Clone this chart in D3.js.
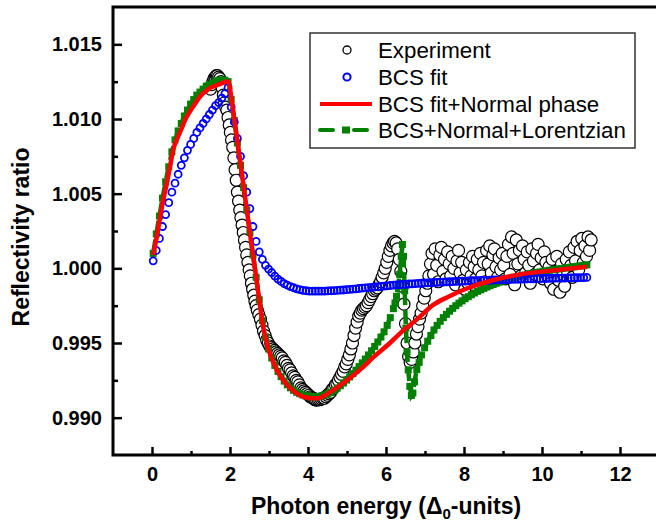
<!DOCTYPE html>
<html><head><meta charset="utf-8">
<script src="https://cdn.jsdelivr.net/npm/d3@7"></script>
<style>body{margin:0;background:#fff}svg{display:block}text{font-family:"Liberation Sans",Arial,sans-serif}</style>
</head><body><svg id="c" width="656" height="521"></svg>
<script>
const xTicksMajor=[0,2,4,6,8,10,12];
const xTicksMinor=[1,3,5,7,9,11];
const yTicksMajor=[0.990,0.995,1.000,1.005,1.010,1.015];
const yTicksMinor=[0.9925,0.9975,1.0025,1.0075,1.0125];
const legendLabels=["Experiment","BCS fit","BCS fit+Normal phase","BCS+Normal+Lorentzian"];
const xTitle=["Photon energy (Δ","0","-units)"];
const yTitle="Reflectivity ratio";

const experiment=[
[1.50,1.0120],[1.53,1.0123],[1.56,1.0125],[1.59,1.0127],[1.62,1.0128],[1.65,1.0129],[1.68,1.0129],[1.71,1.0128],[1.74,1.0127],[1.77,1.0125],
[1.80,1.0121],[1.83,1.0116],[1.86,1.0111],[1.89,1.0108],[1.92,1.0106],[1.95,1.0101],[1.98,1.0096],[2.01,1.0091],[2.04,1.0086],[2.07,1.0081],
[2.10,1.0074],[2.13,1.0066],[2.16,1.0059],[2.19,1.0051],[2.22,1.0045],[2.25,1.0039],[2.28,1.0034],[2.31,1.0029],[2.34,1.0024],[2.37,1.0019],
[2.40,1.0014],[2.43,1.0009],[2.46,1.0004],[2.49,0.9999],[2.52,0.9995],[2.55,0.9990],[2.58,0.9986],[2.61,0.9982],[2.64,0.9978],[2.67,0.9975],
[2.70,0.9972],[2.74,0.9969],[2.78,0.9966],[2.82,0.9962],[2.86,0.9958],[2.90,0.9955],[2.94,0.9952],[2.98,0.9950],[3.02,0.9948],[3.06,0.9947],
[3.10,0.9946],[3.14,0.9945],[3.18,0.9944],[3.22,0.9943],[3.26,0.9942],[3.30,0.9941],[3.34,0.9940],[3.38,0.9938],[3.42,0.9937],[3.46,0.9935],
[3.50,0.9933],[3.54,0.9932],[3.58,0.9930],[3.62,0.9928],[3.66,0.9927],[3.70,0.9925],[3.74,0.9924],[3.78,0.9922],[3.82,0.9920],[3.86,0.9919],
[3.90,0.9918],[3.94,0.9917],[3.98,0.9916],[4.02,0.9915],[4.06,0.9914],[4.10,0.99135],[4.14,0.9913],[4.18,0.9912],[4.22,0.99118],[4.26,0.9912],
[4.30,0.9912],[4.34,0.99125],[4.38,0.9913],[4.42,0.9913],[4.46,0.9914],[4.50,0.9915],[4.54,0.9916],[4.58,0.9917],[4.62,0.9919],[4.66,0.9920],
[4.70,0.9922],[4.74,0.9923],[4.78,0.9925],[4.82,0.9927],[4.86,0.9929],[4.90,0.9931],[4.94,0.9934],[4.98,0.9936],[5.02,0.9939],[5.06,0.9942],
[5.10,0.9946],[5.14,0.9950],[5.18,0.9955],[5.22,0.9960],[5.26,0.9964],[5.30,0.9968],[5.34,0.9970],[5.38,0.9972],[5.42,0.9973],[5.46,0.9974],
[5.50,0.9975],[5.54,0.9977],[5.58,0.9979],[5.62,0.9981],[5.66,0.9983],[5.70,0.9985],[5.74,0.9986],[5.78,0.9987],[5.82,0.9989],[5.86,0.9991],
[5.90,0.9994],[5.94,0.9997],[5.98,1.0000],[6.02,1.0004],[6.06,1.0008],[6.10,1.0012],[6.14,1.0015],[6.18,1.0017],[6.22,1.0018],[6.26,1.0017],
[6.30,1.0013],[6.34,1.0006],[6.38,0.9998],[6.42,0.9988],[6.46,0.9976],[6.50,0.9963],[6.54,0.9950],[6.58,0.9941],[6.62,0.9937],[6.66,0.9939],
[6.70,0.9944],[6.74,0.9950],[6.78,0.9956],[6.82,0.9961],[6.86,0.9966],[6.90,0.9970],[6.94,0.9975],[6.98,0.9980],[7.02,0.9985],[7.06,0.9990],
[7.10,0.9995],[7.14,1.0003],[7.18,1.0010],[7.22,0.9996],[7.26,1.0013],[7.30,1.0002],[7.34,0.9991],[7.38,1.0009],[7.42,1.0014],[7.46,0.9998],
[7.50,1.0006],[7.54,0.9993],[7.58,1.0011],[7.62,1.0003],[7.66,0.9995],[7.70,1.0008],[7.74,1.0000],[7.78,0.9989],[7.82,1.0005],[7.86,1.0012],
[7.90,0.9997],[7.94,1.0004],[7.98,0.9992],[8.02,0.9986],[8.06,0.9999],[8.10,0.9990],[8.14,1.0004],[8.18,0.9995],[8.22,1.0008],[8.26,1.0001],
[8.30,0.9993],[8.34,1.0006],[8.38,0.9999],[8.42,1.0010],[8.46,0.9995],[8.50,1.0004],[8.54,0.9991],[8.58,1.0012],[8.62,1.0003],[8.66,1.0015],
[8.70,0.9997],[8.74,1.0009],[8.78,1.0013],[8.82,1.0001],[8.86,0.9994],[8.90,1.0007],[8.94,0.9999],[8.98,1.0010],[9.02,1.0002],[9.06,0.9993],
[9.10,1.0008],[9.14,1.0016],[9.18,0.9996],[9.22,1.0021],[9.26,1.0010],[9.30,0.9989],[9.34,1.0019],[9.38,1.0003],[9.42,1.0012],[9.46,0.9995],
[9.50,1.0015],[9.54,1.0006],[9.58,0.9997],[9.62,1.0011],[9.66,1.0002],[9.70,0.9990],[9.74,1.0013],[9.78,1.0005],[9.82,0.9996],[9.86,1.0010],
[9.90,1.0016],[9.94,0.9999],[9.98,1.0007],[10.02,0.9993],[10.06,1.0011],[10.10,1.0004],[10.14,0.9995],[10.18,1.0001],[10.22,0.9990],[10.26,1.0006],
[10.30,0.9986],[10.34,0.9998],[10.38,1.0008],[10.42,0.9992],[10.46,0.9984],[10.50,1.0003],[10.54,0.9996],[10.58,0.9988],[10.62,1.0006],[10.66,0.9997],
[10.70,1.0011],[10.74,1.0002],[10.78,0.9994],[10.82,1.0014],[10.86,1.0005],[10.90,1.0018],[10.94,0.9999],[10.98,1.0012],[11.02,1.0020],[11.06,1.0004],
[11.10,1.0015],[11.14,1.0008],[11.18,1.0021],[11.22,1.0012],[11.26,1.0019]
];

const bcsFit=[
[0.03,1.0005],[0.11,1.0012],[0.19,1.0020],[0.27,1.0028],[0.35,1.0036],[0.43,1.0044],[0.51,1.0051],[0.59,1.0057],[0.67,1.0063],[0.75,1.0069],
[0.83,1.0074],[0.91,1.0079],[0.99,1.0083],[1.07,1.0087],[1.15,1.0091],[1.23,1.0094],[1.31,1.0097],[1.39,1.0100],[1.47,1.0103],[1.55,1.0106],
[1.63,1.0109],[1.71,1.0111],[1.79,1.0114],[1.87,1.0117],[1.95,1.0121],[2.03,1.0108],[2.11,1.0098],[2.19,1.0087],[2.27,1.0075],[2.35,1.0062],
[2.43,1.0051],[2.51,1.0040],[2.59,1.0028],[2.67,1.0018],[2.75,1.0011],[2.83,1.0006],[2.91,1.0002],[2.99,0.99995],[3.07,0.99972],[3.15,0.99948],
[3.23,0.99928],[3.31,0.99912],[3.39,0.99898],[3.47,0.99887],[3.55,0.99878],[3.63,0.9987],[3.71,0.99863],[3.79,0.99857],[3.87,0.99853],[3.95,0.9985],
[4.03,0.99848],[4.11,0.99847],[4.19,0.99847],[4.27,0.99847],[4.35,0.99847],[4.43,0.99848],[4.51,0.99849],[4.59,0.9985],[4.67,0.99851],[4.75,0.99852],
[4.83,0.99854],[4.91,0.99855],[4.99,0.99857],[5.07,0.99859],[5.15,0.99861],[5.23,0.99863],[5.31,0.99865],[5.39,0.99867],[5.47,0.99869],[5.55,0.99871],
[5.63,0.99873],[5.71,0.99875],[5.79,0.99877],[5.87,0.99879],[5.95,0.99881],[6.03,0.99883],[6.11,0.99885],[6.19,0.99887],[6.27,0.99889],[6.35,0.9989],
[6.43,0.99892],[6.51,0.99893],[6.59,0.99895],[6.67,0.99896],[6.75,0.99898],[6.83,0.99899],[6.91,0.999],[6.99,0.99902],[7.07,0.99903],[7.15,0.99904],
[7.23,0.99905],[7.31,0.99906],[7.39,0.99907],[7.47,0.99908],[7.55,0.99909],[7.63,0.9991],[7.71,0.99911],[7.79,0.99912],[7.87,0.99913],[7.95,0.99914],
[8.03,0.99915],[8.11,0.99916],[8.19,0.99917],[8.27,0.99917],[8.35,0.99918],[8.43,0.99919],[8.51,0.9992],[8.59,0.9992],[8.67,0.99921],[8.75,0.99922],
[8.83,0.99923],[8.91,0.99923],[8.99,0.99924],[9.07,0.99925],[9.15,0.99925],[9.23,0.99926],[9.31,0.99927],[9.39,0.99927],[9.47,0.99928],[9.55,0.99928],
[9.63,0.99929],[9.71,0.9993],[9.79,0.9993],[9.87,0.99931],[9.95,0.99931],[10.03,0.99932],[10.11,0.99932],[10.19,0.99933],[10.27,0.99933],[10.35,0.99934],
[10.43,0.99934],[10.51,0.99935],[10.59,0.99935],[10.67,0.99936],[10.75,0.99936],[10.83,0.99937],[10.91,0.99937],[10.99,0.99938],[11.07,0.99938],[11.15,0.99939]
];

const bcsNormal=[
[0.03,1.0009],[0.12,1.0021],[0.2,1.0033],[0.29,1.0046],[0.38,1.0057],[0.46,1.0068],[0.55,1.0080],[0.65,1.0087],[0.75,1.0093],[0.86,1.0100],
[0.97,1.0105],[1.1,1.0110],[1.2,1.0114],[1.3,1.0117],[1.4,1.0119],[1.5,1.0121],[1.6,1.0122],[1.7,1.0123],[1.8,1.0124],[1.9,1.0125],
[1.96,1.0125],[2.04,1.0113],[2.2,1.0083],[2.38,1.0049],[2.52,1.0022],[2.64,1.0000],[2.75,0.9979],[2.85,0.9961],[2.95,0.9949],[3.05,0.9941],
[3.2,0.9932],[3.4,0.9924],[3.62,0.9918],[3.8,0.99148],[3.95,0.99135],[4.1,0.9913],[4.25,0.9913],[4.4,0.99145],[4.65,0.99185],[5.0,0.9925],
[5.33,0.9932],[5.7,0.9941],[6.1,0.9950],[6.36,0.99565],[6.8,0.9966],[7.21,0.99755],[7.6,0.9981],[8.07,0.99865],[8.6,0.9991],[9.0,0.99937],
[9.5,0.99962],[10.0,0.99978],[10.5,0.99992],[11.15,1.0001]
];

const bcsNormalLorentz=[
[0.03,1.0010],[0.11,1.0023],[0.19,1.0035],[0.27,1.0047],[0.35,1.0058],[0.43,1.0068],[0.51,1.0078],[0.59,1.0086],[0.67,1.0092],[0.75,1.0097],
[0.83,1.0102],[0.91,1.0106],[0.99,1.0110],[1.07,1.0113],[1.15,1.0116],[1.23,1.0118],[1.31,1.0120],[1.39,1.0122],[1.47,1.0123],[1.55,1.0124],
[1.63,1.0125],[1.71,1.0126],[1.79,1.0126],[1.87,1.0126],[1.95,1.0125],[2.03,1.0113],[2.11,1.0099],[2.19,1.0084],[2.27,1.0069],[2.35,1.0054],
[2.43,1.0039],[2.51,1.0024],[2.59,1.0009],[2.67,0.9994],[2.75,0.9979],[2.83,0.9965],[2.91,0.9954],[2.99,0.9946],[3.07,0.9940],[3.15,0.9935],
[3.23,0.9931],[3.31,0.99275],[3.39,0.99245],[3.47,0.9922],[3.55,0.992],[3.63,0.99183],[3.71,0.9917],[3.79,0.9916],[3.87,0.99152],[3.95,0.99146],
[4.03,0.99142],[4.11,0.9914],[4.19,0.9914],[4.27,0.99142],[4.35,0.99146],[4.43,0.99152],[4.51,0.9916],[4.59,0.9917],[4.67,0.99183],[4.75,0.99198],
[4.83,0.99214],[4.91,0.99232],[4.99,0.99252],[5.07,0.99273],[5.15,0.99295],[5.23,0.99318],[5.31,0.99342],[5.39,0.99367],[5.47,0.99393],[5.55,0.9942],
[5.63,0.99448],[5.71,0.99477],[5.79,0.99507],[5.87,0.9954],[5.95,0.99575],[6.03,0.99618],[6.11,0.9967],[6.19,0.9973],[6.23,0.99768],[6.27,0.99813],
[6.31,0.9988],[6.35,0.9996],[6.39,1.0008],[6.42,1.0016],[6.45,1.0008],[6.48,0.9985],[6.51,0.9960],[6.54,0.9944],[6.57,0.9932],[6.61,0.9921],
[6.65,0.99148],[6.69,0.99165],[6.73,0.9924],[6.79,0.99322],[6.85,0.9937],[6.91,0.9942],[6.99,0.99468],[7.07,0.99512],[7.15,0.9955],[7.23,0.99587],
[7.31,0.99618],[7.39,0.99645],[7.47,0.9967],[7.55,0.99692],[7.63,0.99713],[7.71,0.99732],[7.79,0.9975],[7.87,0.99767],[7.95,0.99782],[8.03,0.99797],
[8.11,0.9981],[8.19,0.99823],[8.27,0.99835],[8.35,0.99846],[8.43,0.99856],[8.51,0.99866],[8.59,0.99875],[8.67,0.99884],[8.75,0.99892],[8.83,0.999],
[8.91,0.99907],[8.99,0.99914],[9.07,0.99921],[9.15,0.99927],[9.23,0.99933],[9.31,0.99939],[9.39,0.99944],[9.47,0.99949],[9.55,0.99954],[9.63,0.99959],
[9.71,0.99964],[9.79,0.99968],[9.87,0.99972],[9.95,0.99976],[10.03,0.9998],[10.11,0.99984],[10.19,0.99987],[10.27,0.9999],[10.35,0.99993],[10.43,0.99996],
[10.51,0.99999],[10.59,1.00002],[10.67,1.00005],[10.75,1.00008],[10.83,1.00011],[10.91,1.00014],[10.99,1.00017],[11.07,1.0002],[11.15,1.00023]
];

const FONT='"Liberation Sans",Arial,sans-serif';
const svg=d3.select("#c");
const x=d3.scaleLinear().domain([-1,13]).range([113,659]);
const y=d3.scaleLinear().domain([0.9875,1.0175]).range([455,7]);
const [y0]=y.range();

// minor ticks
const gxm=svg.append("g").attr("transform",`translate(0,${y0})`)
  .call(d3.axisBottom(x).tickValues(xTicksMinor).tickSize(-4).tickSizeOuter(0).tickFormat(""));
gxm.select(".domain").remove();
gxm.selectAll(".tick line").attr("stroke","#000").attr("stroke-width",2.5);
const gym=svg.append("g").attr("transform",`translate(${x.range()[0]},0)`)
  .call(d3.axisLeft(y).tickValues(yTicksMinor).tickSize(-5).tickSizeOuter(0).tickFormat(""));
gym.select(".domain").remove();
gym.selectAll(".tick line").attr("stroke","#000").attr("stroke-width",2.5);

// major axes
const gx=svg.append("g").attr("transform",`translate(0,${y0})`)
  .call(d3.axisBottom(x).tickValues(xTicksMajor).tickSize(-8).tickSizeOuter(0).tickPadding(12).tickFormat(d3.format("d")));
gx.select(".domain").remove();
gx.selectAll(".tick line").attr("stroke","#000").attr("stroke-width",2.5);
gx.selectAll("text").attr("font-family",FONT).attr("font-size",20).attr("font-weight","bold").attr("fill","#000");
const gy=svg.append("g").attr("transform",`translate(${x.range()[0]},0)`)
  .call(d3.axisLeft(y).tickValues(yTicksMajor).tickSize(-9).tickSizeOuter(0).tickPadding(11).tickFormat(d3.format(".3f")));
gy.select(".domain").remove();
gy.selectAll(".tick line").attr("stroke","#000").attr("stroke-width",2.5);
gy.selectAll("text").attr("font-family",FONT).attr("font-size",20).attr("font-weight","bold").attr("fill","#000");

// frame
svg.append("rect").attr("x",x.range()[0]).attr("y",y.range()[1])
  .attr("width",x.range()[1]-x.range()[0]).attr("height",y0-y.range()[1])
  .attr("fill","none").attr("stroke","#000").attr("stroke-width",3);

// experiment
svg.append("g").selectAll("circle").data(experiment).join("circle")
  .attr("cx",d=>x(d[0])).attr("cy",d=>y(d[1])).attr("r",6)
  .attr("fill","#fff").attr("stroke","#000").attr("stroke-width",1.2);

// green: dashed line + squares
svg.append("path").datum(bcsNormalLorentz)
  .attr("d",d3.line().x(d=>x(d[0])).y(d=>y(d[1])))
  .attr("fill","none").attr("stroke","#008000").attr("stroke-width",4.5).attr("stroke-dasharray","14,5");
const sq=7;
svg.append("g").selectAll("rect").data(bcsNormalLorentz).join("rect")
  .attr("x",d=>x(d[0])-sq/2).attr("y",d=>y(d[1])-sq/2).attr("width",sq).attr("height",sq)
  .attr("fill","#008000");

// blue circles
svg.append("g").selectAll("circle").data(bcsFit).join("circle")
  .attr("cx",d=>x(d[0])).attr("cy",d=>y(d[1])).attr("r",3.5)
  .attr("fill","none").attr("stroke","#0000ff").attr("stroke-width",1.8);

// red line
svg.append("path").datum(bcsNormal)
  .attr("d",d3.line().x(d=>x(d[0])).y(d=>y(d[1])).curve(d3.curveMonotoneX))
  .attr("fill","none").attr("stroke","#ff0000").attr("stroke-width",4.5).attr("stroke-linejoin","round");

// axis titles
svg.append("text").attr("transform","translate(29,237) rotate(-90)")
  .attr("text-anchor","middle").attr("font-family",FONT).attr("font-size",23).attr("font-weight","bold").text(yTitle);
const xt=svg.append("text").attr("x",386).attr("y",514).attr("text-anchor","middle")
  .attr("font-family",FONT).attr("font-size",23).attr("font-weight","bold");
xt.append("tspan").text(xTitle[0]);
xt.append("tspan").attr("font-size",15).attr("dy",5).text(xTitle[1]);
xt.append("tspan").attr("dy",-5).text(xTitle[2]);

// legend
const lg=svg.append("g");
lg.append("rect").attr("x",310).attr("y",33).attr("width",325).attr("height",115)
  .attr("fill","#fff").attr("stroke","#333").attr("stroke-width",1.5);
const rowY=[50,77,104,130];
legendLabels.forEach((t,i)=>{
  lg.append("text").attr("x",378).attr("y",rowY[i]+8).attr("font-family",FONT).attr("font-size",22.3).attr("fill","#000").text(t);
});
lg.append("circle").attr("cx",347).attr("cy",rowY[0]).attr("r",4).attr("fill","#fff").attr("stroke","#000").attr("stroke-width",1.3);
lg.append("circle").attr("cx",347).attr("cy",rowY[1]).attr("r",3.6).attr("fill","#fff").attr("stroke","#0000ff").attr("stroke-width",2);
lg.append("line").attr("x1",320).attr("x2",372).attr("y1",rowY[2]).attr("y2",rowY[2]).attr("stroke","#ff0000").attr("stroke-width",4);
lg.append("line").attr("x1",320).attr("x2",333).attr("y1",rowY[3]).attr("y2",rowY[3]).attr("stroke","#008000").attr("stroke-width",4).attr("stroke-linecap","round");
lg.append("line").attr("x1",354).attr("x2",367).attr("y1",rowY[3]).attr("y2",rowY[3]).attr("stroke","#008000").attr("stroke-width",4).attr("stroke-linecap","round");
lg.append("rect").attr("x",342).attr("y",rowY[3]-3.5).attr("width",8).attr("height",7).attr("fill","#008000");
</script></body></html>
